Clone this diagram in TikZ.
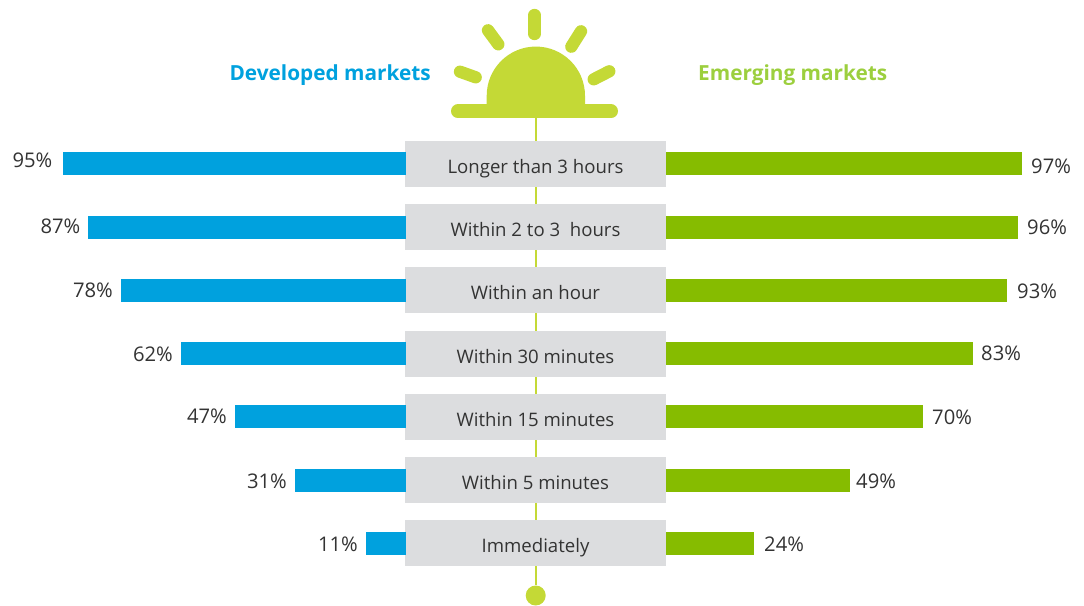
\documentclass[tikz,border=0pt]{standalone}
\usepackage{fontspec}
\setmainfont{Open Sans}
\definecolor{sun}{HTML}{C4D936}
\definecolor{dblue}{HTML}{00A1DE}
\definecolor{egreen}{HTML}{86BC00}
\definecolor{hgreen}{HTML}{9CCF3E}
\definecolor{boxgray}{HTML}{DCDDDF}
\definecolor{ink}{HTML}{333333}
\tikzset{
  catbox/.style={fill=boxgray,minimum width=261pt,minimum height=46pt,inner sep=0pt,anchor=center,text=ink,text height=20pt,text depth=2pt,font=\fontsize{18.6}{20}\selectfont},
  bar/.style={inner sep=0pt,minimum height=23pt},
  lbar/.style={bar,fill=dblue,anchor=east},
  rbar/.style={bar,fill=egreen,anchor=west},
  pct/.style={inner sep=0pt,text=ink,font=\fontsize{20.2}{22}\selectfont},
  lpct/.style={pct,anchor=base east},
  rpct/.style={pct,anchor=base west},
  head/.style={inner sep=0pt,font=\fontsize{20.8}{23}\selectfont\bfseries},
  ray/.style={draw=sun,line width=12.3pt,line cap=round},
  stem/.style={draw=sun,line width=2.3pt}
}
\begin{document}
\begin{tikzpicture}[x=1pt,y=-1pt]
\useasboundingbox (0,0) rectangle (1084,605);
\node[circle,fill=sun,minimum size=20pt,inner sep=0pt] (dot) at (535.7,595.5) {};
\coordinate (sunbase) at (535.7,111);
\draw[stem] (sunbase) -- (dot);
% sun
\fill[sun] (486.7,106) -- (486.7,95.7) arc[start angle=180,end angle=0,radius=49.15pt] -- (585,106) -- cycle;
\draw[ray,line width=14pt] (458,111.3) -- (611,111.3);
\draw[ray] (534.5,15) -- (534.5,34);
\draw[ray] (488,30.3) -- (498.3,44.3);
\draw[ray] (581,31.3) -- (571.3,46.7);
\draw[ray] (460,71.7) -- (475.7,77.3);
\draw[ray] (609.3,71.3) -- (593.7,79.3);
% headers
\node[head,text=dblue,anchor=base east] (hl) at (431,80) {Developed markets};
\node[head,text=hgreen,anchor=base west] (hr) at (698,80) {Emerging markets};
% boxes
\node[catbox] (b1) at (535.5,164) {Longer than 3 hours};
\node[catbox] (b2) at (535.5,227) {Within 2 to 3\ \ hours};
\node[catbox] (b3) at (535.5,290) {Within an hour};
\node[catbox] (b4) at (535.5,354) {Within 30 minutes};
\node[catbox] (b5) at (535.5,417) {Within 15 minutes};
\node[catbox] (b6) at (535.5,480) {Within 5 minutes};
\node[catbox] (b7) at (535.5,543) {Immediately};
% left bars
\node[lbar,minimum width=343pt] (l1) at (406,163.5) {};
\node[lbar,minimum width=318pt] (l2) at (406,227.5) {};
\node[lbar,minimum width=285pt] (l3) at (406,290.5) {};
\node[lbar,minimum width=225pt] (l4) at (406,353.5) {};
\node[lbar,minimum width=171pt] (l5) at (406,416.5) {};
\node[lbar,minimum width=111pt] (l6) at (406,480.5) {};
\node[lbar,minimum width=40pt] (l7) at (406,543.5) {};
% right bars
\node[rbar,minimum width=356pt] (r1) at (666,163.5) {};
\node[rbar,minimum width=352pt] (r2) at (666,227.5) {};
\node[rbar,minimum width=341pt] (r3) at (666,290.5) {};
\node[rbar,minimum width=307pt] (r4) at (666,353.5) {};
\node[rbar,minimum width=257pt] (r5) at (666,416.5) {};
\node[rbar,minimum width=184pt] (r6) at (666,480.5) {};
\node[rbar,minimum width=88pt] (r7) at (666,543.5) {};
% left labels
\node[lpct] (pl1) at (52.5,167) {95\%};
\node[lpct] (pl2) at (80.5,233) {87\%};
\node[lpct] (pl3) at (113,297) {78\%};
\node[lpct] (pl4) at (173,361) {62\%};
\node[lpct] (pl5) at (227,423) {47\%};
\node[lpct] (pl6) at (287,488) {31\%};
\node[lpct] (pl7) at (358,551) {11\%};
% right labels
\node[rpct] (pr1) at (1031,173) {97\%};
\node[rpct] (pr2) at (1027,234) {96\%};
\node[rpct] (pr3) at (1017,298) {93\%};
\node[rpct] (pr4) at (981,360) {83\%};
\node[rpct] (pr5) at (932,424) {70\%};
\node[rpct] (pr6) at (856,488) {49\%};
\node[rpct] (pr7) at (764,551) {24\%};
\end{tikzpicture}
\end{document}
